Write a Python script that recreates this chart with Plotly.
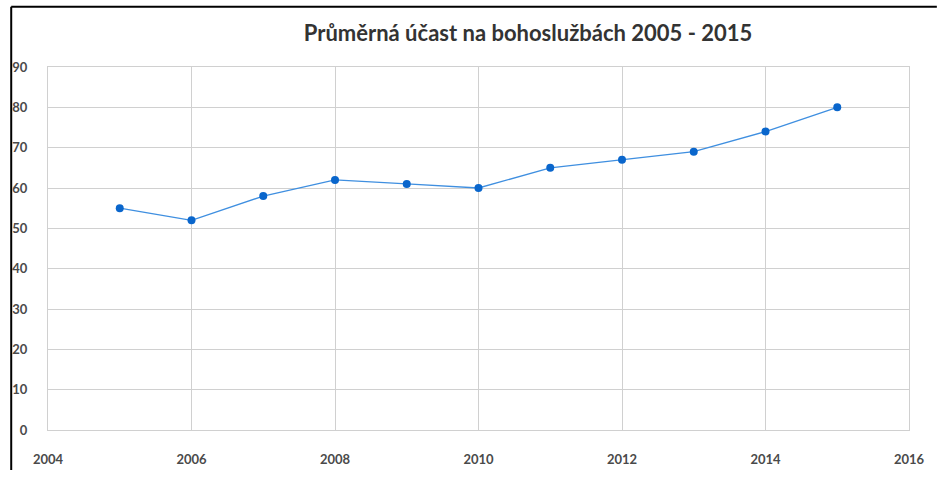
import plotly.graph_objects as go

years = [2005, 2006, 2007, 2008, 2009, 2010, 2011, 2012, 2013, 2014, 2015]
attendance = [55, 52, 58, 62, 61, 60, 65, 67, 69, 74, 80]
x_ticks = [2004, 2006, 2008, 2010, 2012, 2014, 2016]
y_ticks = [0, 10, 20, 30, 40, 50, 60, 70, 80, 90]
title_text = "Průměrná účast na bohoslužbách 2005 - 2015"

W, H = 937, 479
L, R, T, B = 45, 26, 67, 39
pw, ph = W - L - R, H - T - B

def px(x):
    return (x - L) / pw

def py(y):
    return (H - B - y) / ph

fig = go.Figure()
fig.add_trace(go.Scatter(
    x=years, y=attendance, mode="lines+markers",
    line=dict(color="#3f8fe0", width=1.3),
    marker=dict(color="#0a66cc", size=8),
    hoverinfo="x+y", showlegend=False,
))

tickfont = dict(family="Lato, Open Sans, sans-serif", size=13, color="#4a4a4a", weight="bold")

fig.update_layout(
    width=W, height=H,
    margin=dict(l=L, r=R, t=T, b=B),
    paper_bgcolor="#ffffff", plot_bgcolor="#ffffff",
    title=dict(text=title_text, x=528 / W, xanchor="center", y=1 - 33 / H, yanchor="middle",
               font=dict(family="Lato, Open Sans, sans-serif", size=22, color="#333333", weight="bold")),
    xaxis=dict(range=[2004, 2016], tickvals=x_ticks, showgrid=True, gridcolor="#d0d0d0", gridwidth=1,
               zeroline=False, showline=True, linecolor="#d0d0d0", mirror=True,
               tickfont=tickfont, ticks="", ticklabelstandoff=17),
    yaxis=dict(range=[0, 90], tickvals=y_ticks, showgrid=True, gridcolor="#d0d0d0", gridwidth=1,
               zeroline=False, showline=True, linecolor="#d0d0d0", mirror=True,
               tickfont=tickfont, ticks="", ticklabelstandoff=17),
    shapes=[
        dict(type="line", xref="paper", yref="paper", x0=px(8), x1=px(8), y0=py(5), y1=py(H + 2),
             line=dict(color="#000000", width=2)),
        dict(type="line", xref="paper", yref="paper", x0=px(8), x1=px(W + 2), y0=py(5), y1=py(5),
             line=dict(color="#000000", width=2)),
    ],
)

fig.write_html("out.html", config={"displayModeBar": False},
               post_script="document.body.style.margin='0';document.body.style.overflow='hidden';")
